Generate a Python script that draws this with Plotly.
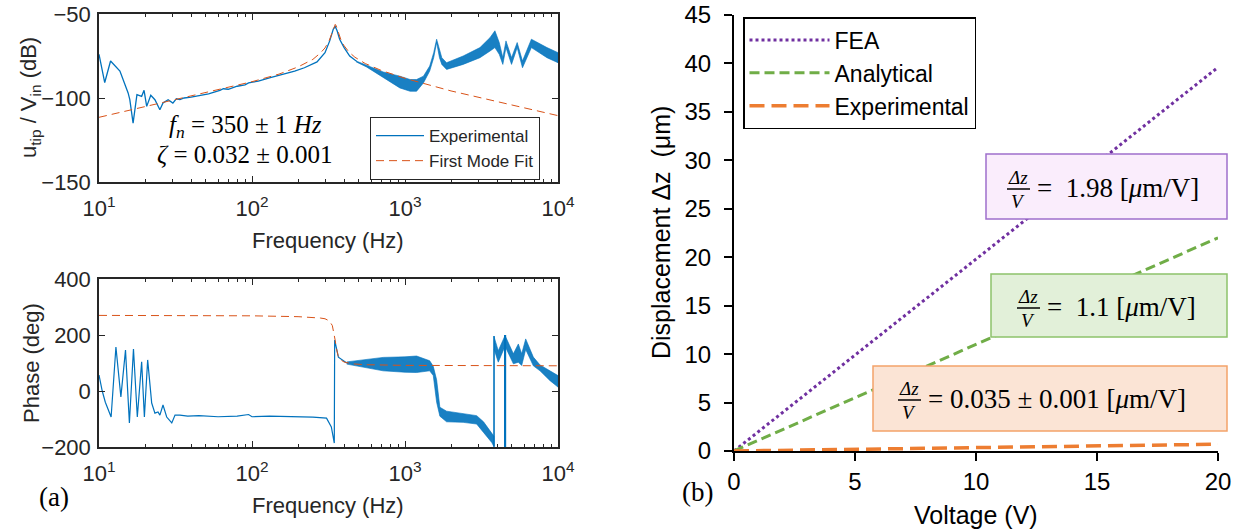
import plotly.graph_objects as go

# ---------------- data ----------------
# Magnitude, experimental (single-line part)
mag_f = [10.0, 10.9, 11.9, 13.7, 15.5, 15.9, 16.7, 17.7, 19.0, 19.7, 20.5, 21.8, 23.2, 25.0, 26.2,
         28.3, 30.4, 32.0, 33.8, 36.0, 40.0, 45.8, 52.0, 61.7, 65.0, 70.0, 80.0, 90.0, 95.0, 101.0,
         110.0, 130.0, 159.0, 190.0, 220.0, 266.0, 300.0, 322.0, 340.0, 350.0, 360.0, 374.0, 400.0,
         435.0, 480.0]
mag_db = [-74, -90.8, -78, -84, -97, -101, -115, -98, -99, -95.4, -105, -98.4, -101, -107, -103,
          -101, -103, -100.5, -101, -100, -99.5, -98.5, -97.5, -95.5, -94.5, -94.8, -93, -92.2, -91, -90.5,
          -90, -88, -86, -84, -82, -78.5, -73, -66, -59, -57.5, -60, -65, -70,
          -75, -78]
# Magnitude, experimental (dense noisy part: upper / lower envelope)
magband_f = [480, 560, 720, 925, 1080, 1190, 1320, 1450, 1540, 1610, 1680, 1740, 1870, 2400, 3090,
             3600, 3870, 4130, 4360, 4570, 4970, 5410, 5860, 6700, 8470, 10000]
magband_hi = [-78, -80.5, -84.5, -87, -89, -89, -87, -81, -73, -65, -72, -76, -79, -75, -70,
              -64, -60, -67, -76, -66, -76, -67, -78, -65, -70, -73]
magband_lo = [-78.5, -81.5, -88, -94, -96, -96, -91, -84, -76, -67, -76, -80, -83, -80, -76,
              -72, -70, -74, -80, -70, -80, -70, -82, -70, -76, -79]
# Magnitude, first mode fit
fit_f = [10, 20, 50, 100, 150, 200, 250, 280, 300, 320, 335, 345, 350, 355, 365, 380, 400, 430,
         470, 550, 700, 1000, 2000, 5000, 10000]
fit_db = [-111.5, -105.2, -97, -90.3, -85.8, -81.5, -77, -73.2, -70.2, -65.7, -60.8, -57, -56.2,
          -57, -60.6, -65, -68.9, -72.6, -75.7, -79.5, -83.6, -88.3, -95.8, -104.3, -110.5]

# Phase, experimental (single-line part)
ph_f = [10.0, 10.5, 11.0, 11.5, 12.0, 12.9, 13.9, 14.9, 15.8, 16.8, 17.8, 19.0, 19.8, 20.8, 22.1,
        23.2, 24.3, 25.0, 26.2, 27.7, 29.9, 31.4, 33.8, 38.0, 45.0, 60.0, 80.0, 95.0, 100.0, 130.0,
        180.0, 250.0, 307.0, 330.0, 345.0, 347.0, 367.0, 416.0]
ph_deg = [57, 0, -40, -70, -93, 157, -21, 146, -114, 150, -93, 104, -93, 111, -43,
          -79, -75, -86, -50, -93, -114, -86, -86, -90, -88, -92, -90, -84, -92, -90,
          -92, -93, -97, -128, -186, 182, 121, 100]
# Phase, experimental noisy part 1 (upper / lower envelope)
phband1_f = [416, 500, 720, 1000, 1190, 1450, 1530, 1610, 1690, 1870, 2400, 2940, 3260, 3690, 3818]
phband1_hi = [104, 110, 120, 122, 125, 108, 88, 40, -58, -72, -82, -88, -110, -150, -162]
phband1_lo = [96, 88, 72, 67, 66, 72, 55, -40, -90, -110, -112, -118, -148, -184, -199]
# Phase, experimental noisy part 2 (upper / lower envelope)
phband2_f = [3818, 4070, 4508, 5110, 5505, 5790, 6150, 6900, 7630, 8870, 10000]
phband2_hi = [194, 144, 198, 133, 168, 133, 186, 121, 93, 73, 55]
phband2_lo = [150, 103, 160, 97, 103, 91, 148, 90, 72, 37, 14]
# Phase, experimental vertical jumps
phjump_f = [3818, 3818, None, 4490, 4490, None, 4530, 4530]
phjump_deg = [-199, 196, None, 200, -200, None, -200, 200]
# Phase, first mode fit
phfit_f = [10, 50, 100, 200, 250, 280, 300, 320, 335, 345, 350, 355, 365, 380, 400, 450, 550,
           1000, 10000]
phfit_deg = [270, 269.5, 268.5, 265.5, 263, 260.5, 258, 250.4, 233.8, 204.2, 180, 156.1, 127.3,
             111.2, 103.4, 97.2, 93.9, 91.5, 90]

# Displacement vs voltage
voltage = [0, 5, 10, 15, 20]
disp_fea = [0, 9.9, 19.8, 29.7, 39.6]
disp_analytical = [0, 5.5, 11.0, 16.5, 22.0]
disp_experimental = [0, 0.18, 0.35, 0.53, 0.7]

freq_ticks = [10, 100, 1000, 10000]
freq_ticktext = ["10<sup>1</sup>", "10<sup>2</sup>", "10<sup>3</sup>", "10<sup>4</sup>"]

# ---------------- figure ----------------
# the page body margin is removed (post_script), so the figure fills the window from (0, 0)
W, H = 1243, 529
def px(x):
    return x / W
def py(y):
    return 1 - y / H

BLUE = "#0072BD"
BAND = "rgba(0,114,189,0.9)"
RED = "#D95319"
DARK = "#262626"
SANS = "Liberation Sans"
SERIF = "Liberation Serif"

fig = go.Figure()

# --- magnitude ---
fig.add_trace(go.Scatter(x=magband_f + magband_f[::-1], y=magband_hi + magband_lo[::-1],
                         fill="toself", fillcolor=BAND, line=dict(color=BLUE, width=0.6),
                         mode="lines", showlegend=False, hoverinfo="skip", xaxis="x", yaxis="y"))
fig.add_trace(go.Scatter(x=mag_f + magband_f[:1], y=mag_db + [(magband_hi[0] + magband_lo[0]) / 2],
                         mode="lines", line=dict(color=BLUE, width=1.3),
                         name="Experimental", legend="legend", xaxis="x", yaxis="y"))
fig.add_trace(go.Scatter(x=fit_f, y=fit_db, mode="lines", line=dict(color=RED, width=1, dash="8px,5px"),
                         name="First Mode Fit", legend="legend", xaxis="x", yaxis="y"))

# --- phase ---
fig.add_trace(go.Scatter(x=phband1_f + phband1_f[::-1], y=phband1_hi + phband1_lo[::-1],
                         fill="toself", fillcolor=BAND, line=dict(color=BLUE, width=0.6),
                         mode="lines", showlegend=False, hoverinfo="skip", xaxis="x2", yaxis="y2"))
fig.add_trace(go.Scatter(x=phband2_f + phband2_f[::-1], y=phband2_hi + phband2_lo[::-1],
                         fill="toself", fillcolor=BAND, line=dict(color=BLUE, width=0.6),
                         mode="lines", showlegend=False, hoverinfo="skip", xaxis="x2", yaxis="y2"))
fig.add_trace(go.Scatter(x=phjump_f, y=phjump_deg, mode="lines", line=dict(color=BLUE, width=1.6),
                         showlegend=False, hoverinfo="skip", xaxis="x2", yaxis="y2"))
fig.add_trace(go.Scatter(x=ph_f, y=ph_deg, mode="lines", line=dict(color=BLUE, width=1.2),
                         showlegend=False, xaxis="x2", yaxis="y2"))
fig.add_trace(go.Scatter(x=phfit_f, y=phfit_deg, mode="lines", line=dict(color=RED, width=1, dash="8px,5px"),
                         showlegend=False, xaxis="x2", yaxis="y2"))

# --- displacement ---
fig.add_trace(go.Scatter(x=voltage, y=disp_fea, mode="lines", name="FEA",
                         line=dict(color="#7030A0", width=3, dash="3px,3px"),
                         legend="legend2", xaxis="x3", yaxis="y3"))
fig.add_trace(go.Scatter(x=voltage, y=disp_analytical, mode="lines", name="Analytical",
                         line=dict(color="#70AD47", width=3, dash="10px,5px"),
                         legend="legend2", xaxis="x3", yaxis="y3"))
fig.add_trace(go.Scatter(x=voltage, y=disp_experimental, mode="lines", name="Experimental",
                         line=dict(color="#ED7D31", width=3.5, dash="15px,7px"),
                         legend="legend2", xaxis="x3", yaxis="y3"))

minor_vals = [m * 10 ** e for e in (1, 2, 3) for m in range(2, 10)]

left_x = dict(type="log", range=[1, 4], tickvals=freq_ticks, ticktext=freq_ticktext,
              showline=True, mirror="ticks", linecolor=DARK, linewidth=1.5,
              ticks="inside", ticklen=6, tickwidth=1.2, tickcolor=DARK,
              minor=dict(tickvals=minor_vals, ticks="inside", ticklen=3, tickcolor=DARK, tickwidth=1),
              showgrid=False, zeroline=False, ticklabelstandoff=6, automargin=False,
              ticklabeloverflow="allow",
              tickfont=dict(family=SANS, size=22, color=DARK),
              domain=[px(99), px(558)])
left_y = dict(showline=True, mirror="ticks", linecolor=DARK, linewidth=1.5,
              ticks="inside", ticklen=6, tickwidth=1.2, tickcolor=DARK,
              showgrid=False, zeroline=False, ticklabelstandoff=2, automargin=False,
              ticklabeloverflow="allow",
              tickfont=dict(family=SANS, size=22, color=DARK))

fig.update_layout(
    width=W, height=H, margin=dict(l=0, r=0, t=0, b=0, autoexpand=False),
    paper_bgcolor="white", plot_bgcolor="white",
    xaxis=dict(left_x, anchor="y"),
    yaxis=dict(left_y, anchor="x", range=[-150, -50], tickvals=[-150, -100, -50],
               domain=[py(182), py(14)]),
    xaxis2=dict(left_x, anchor="y2"),
    yaxis2=dict(left_y, anchor="x2", range=[-200, 400], tickvals=[-200, 0, 200, 400],
                domain=[py(447), py(279)]),
    xaxis3=dict(anchor="y3", range=[0, 20], tickvals=[0, 5, 10, 15, 20],
                domain=[px(734), px(1218)], showline=True, linecolor="black", linewidth=2,
                ticks="outside", ticklen=8, tickwidth=2, tickcolor="black", automargin=False,
                showgrid=False, zeroline=False, ticklabelstandoff=0, ticklabeloverflow="allow",
                tickfont=dict(family=SANS, size=24, color="black")),
    yaxis3=dict(anchor="x3", range=[0, 45], dtick=5, automargin=False,
                domain=[py(451), py(15)], showline=True, linecolor="black", linewidth=2,
                ticks="outside", ticklen=8, tickwidth=2, tickcolor="black",
                showgrid=False, zeroline=False, ticklabelstandoff=8, ticklabeloverflow="allow",
                tickfont=dict(family=SANS, size=24, color="black")),
    legend=dict(x=px(370), y=py(117), xanchor="left", yanchor="top",
                bgcolor="white", bordercolor=DARK, borderwidth=1, itemwidth=48,
                font=dict(family=SANS, size=17, color=DARK), tracegroupgap=0),
    legend2=dict(x=px(743), y=py(17), xanchor="left", yanchor="top",
                 bgcolor="white", bordercolor="black", borderwidth=1.5, itemwidth=80,
                 font=dict(family=SANS, size=23, color="black"), tracegroupgap=0),
)

ann = []
def A(x, y, text, size, family=SANS, color=DARK, angle=0, xanchor="center"):
    ann.append(dict(x=px(x), y=py(y), xref="paper", yref="paper", text=text, showarrow=False,
                    font=dict(family=family, size=size, color=color), textangle=angle,
                    xanchor=xanchor, yanchor="middle"))

# axis titles
A(328, 240, "Frequency (Hz)", 22)
A(328, 505, "Frequency (Hz)", 22)
A(30, 98, "u<sub>tip</sub> / V<sub>in</sub> (dB)", 22, angle=-90)
A(31, 363, "Phase (deg)", 22, angle=-90)
A(976, 515, "Voltage (V)", 25, color="black")
A(661, 233, "Displacement Δz  (μm)", 25, color="black", angle=-90)
# panel labels
A(54, 497, "(a)", 27, family=SERIF, color="black")
A(697, 492, "(b)", 27, family=SERIF, color="black")
# fit parameters
A(245, 127, "<i>f<sub>n</sub></i> = 350 ± 1 <i>Hz</i>", 25, family=SERIF, color="black")
A(244, 154, "<i>ζ</i> = 0.032 ± 0.001", 25, family=SERIF, color="black")

shapes = []
def box(x0, x1, y0, y1, fill, edge):
    shapes.append(dict(type="rect", xref="paper", yref="paper", x0=px(x0), x1=px(x1),
                       y0=py(y1), y1=py(y0), fillcolor=fill, line=dict(color=edge, width=1.5),
                       layer="above"))
def frac(xc, ybar, x0, x1, value_text, xt):
    shapes.append(dict(type="line", xref="paper", yref="paper", x0=px(x0), x1=px(x1),
                       y0=py(ybar), y1=py(ybar), line=dict(color="black", width=1.5), layer="above"))
    A(xc, ybar - 12, "<i>Δz</i>", 19, family=SERIF, color="black")
    A(xc, ybar + 12, "<i>V</i>", 19, family=SERIF, color="black")
    A(xt, ybar - 1, value_text, 27, family=SERIF, color="black", xanchor="left")

box(986, 1227, 154, 219, "#FAEDFC", "#9E6FCB")
frac(1018, 189, 1007, 1030, "= \u00a01.98 [<i>μ</i>m/V]", 1035)
box(991, 1227, 274, 337, "#E2F0D9", "#8DC26B")
frac(1028, 308, 1017, 1040, "= \u00a01.1 [<i>μ</i>m/V]", 1045)
box(873, 1227, 366, 431, "#FBE4D5", "#F4A26A")
frac(909, 400, 898, 921, "= 0.035 ± 0.001 [<i>μ</i>m/V]", 926)

fig.update_layout(annotations=ann, shapes=shapes)
fig.write_html("out.html", config={"displayModeBar": False},
               post_script="document.body.style.margin='0px';document.body.style.overflow='hidden';")
